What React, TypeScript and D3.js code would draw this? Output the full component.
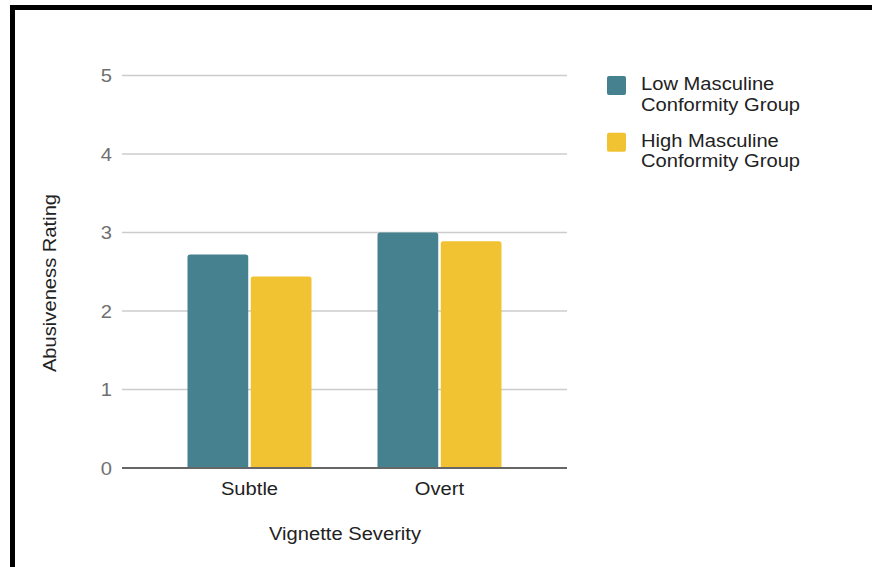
import React from "react";
import * as d3 from "d3";

const categories = ["Subtle", "Overt"];
const seriesNames = ["Low Masculine Conformity Group", "High Masculine Conformity Group"];
const legendLines = [
  ["Low Masculine", "Conformity Group"],
  ["High Masculine", "Conformity Group"],
];
const lowValues = [2.72, 3.0];
const highValues = [2.44, 2.89];
const yTicks = [0, 1, 2, 3, 4, 5];
const colors = ["#45818e", "#f1c232"];

const W = 872;
const H = 567;
const FONT = "'Liberation Sans', Arial, Helvetica, sans-serif";
const FS = 18.5;
const SX = 1.09;

type LabelProps = {
  x: number;
  y: number;
  rotate?: number;
  anchor?: "start" | "middle" | "end";
  fill?: string;
  dy?: string;
  children: React.ReactNode;
};

// Text drawn with a slightly wider set width
function Label({ x, y, rotate = 0, anchor = "start", fill = "#222", dy, children }: LabelProps) {
  return (
    <text
      transform={`translate(${x},${y}) rotate(${rotate}) scale(${SX},1)`}
      textAnchor={anchor}
      fontSize={FS}
      fill={fill}
      dy={dy}
    >
      {children}
    </text>
  );
}

export default function App() {
  const y = d3.scaleLinear().domain([0, 5]).range([468, 75.5]);
  const x = d3.scaleBand<string>().domain(categories).range([154.5, 534.5]).padding(0);
  const inner = d3
    .scaleBand<string>()
    .domain(seriesNames)
    .range([-62, 62])
    .paddingInner(0.04);
  const values = [lowValues, highValues];

  const topRounded = (x0: number, y0: number, w: number, h: number, r: number) => {
    const p = d3.path();
    p.moveTo(x0, y0 + h);
    p.lineTo(x0, y0 + r);
    p.arcTo(x0, y0, x0 + r, y0, r);
    p.lineTo(x0 + w - r, y0);
    p.arcTo(x0 + w, y0, x0 + w, y0 + r, r);
    p.lineTo(x0 + w, y0 + h);
    p.closePath();
    return p.toString();
  };

  return (
    <svg
      width={W}
      height={H}
      style={{ position: "fixed", left: 0, top: 0, background: "#fff" }}
      fontFamily={FONT}
    >
      <rect x={0} y={0} width={W} height={H} fill="#fff" />
      {/* frame */}
      <path d="M12.5,567 V7.5 H872" fill="none" stroke="#000" strokeWidth={5} />

      {/* grid + y ticks */}
      {yTicks.map((t) => (
        <g key={t}>
          {t !== 0 && (
            <line x1={122} x2={567} y1={y(t)} y2={y(t)} stroke="#cccccc" strokeWidth={1.5} />
          )}
          <Label x={112} y={y(t)} dy="0.36em" anchor="end" fill="#6f6f6f">
            {t}
          </Label>
        </g>
      ))}

      {/* bars */}
      {categories.map((c, ci) => {
        const cx = (x(c) ?? 0) + x.bandwidth() / 2;
        return (
          <g key={c}>
            {seriesNames.map((s, si) => {
              const v = values[si][ci];
              const x0 = cx + (inner(s) ?? 0);
              return (
                <path
                  key={s}
                  d={topRounded(x0, y(v), inner.bandwidth(), y(0) - y(v), 2.5)}
                  fill={colors[si]}
                />
              );
            })}
            <Label x={cx} y={494.5} anchor="middle">
              {c}
            </Label>
          </g>
        );
      })}

      {/* baseline */}
      <line x1={122} x2={567} y1={y(0)} y2={y(0)} stroke="#666" strokeWidth={2} />

      {/* axis titles */}
      <Label x={345} y={540} anchor="middle">
        Vignette Severity
      </Label>
      <Label x={56} y={283} rotate={-90} anchor="middle">
        Abusiveness Rating
      </Label>

      {/* legend */}
      {legendLines.map((lines, i) => (
        <g key={i} transform={`translate(0,${i * 56.7})`}>
          <rect x={607} y={76} width={19} height={19} rx={2} fill={colors[i]} />
          {lines.map((ln, li) => (
            <Label key={li} x={641} y={90 + li * 20.7}>
              {ln}
            </Label>
          ))}
        </g>
      ))}
    </svg>
  );
}
